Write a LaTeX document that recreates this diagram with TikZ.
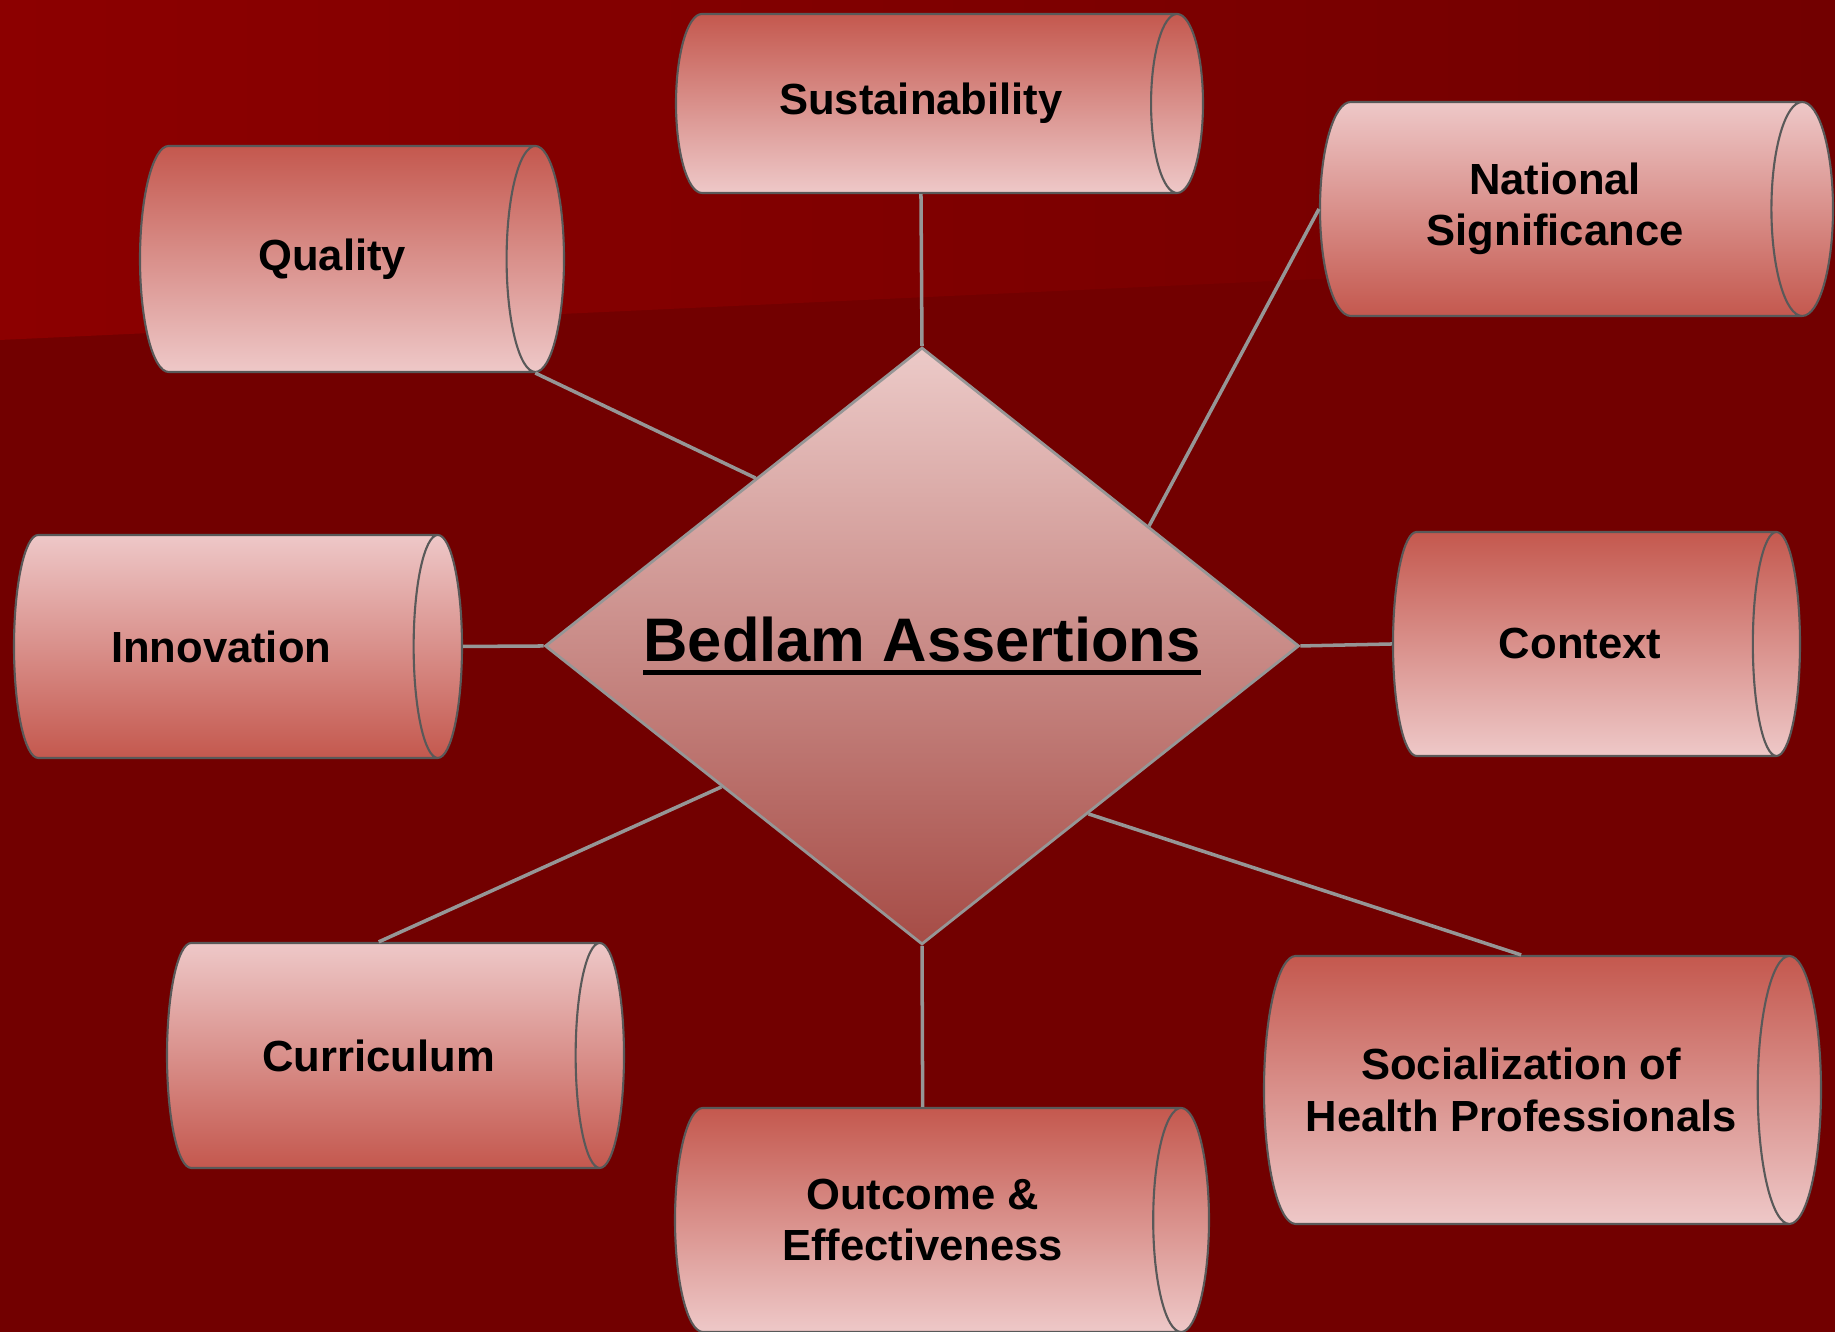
\documentclass[tikz,border=0pt]{standalone}
\usepackage{fontspec}
\setmainfont{Liberation Sans}
\usetikzlibrary{positioning, shapes.geometric, calc}

\definecolor{bgdark}{RGB}{114,0,0}
\definecolor{bglight}{RGB}{140,0,0}
\definecolor{drumdark}{RGB}{196,88,78}
\definecolor{drumlight}{RGB}{238,200,200}
\definecolor{hubtop}{RGB}{236,202,200}
\definecolor{hubbot}{RGB}{166,76,70}
\definecolor{linkgray}{RGB}{150,150,150}

% thick underline for the hub title
\newcommand{\hubline}[1]{\setbox0=\hbox{#1}\copy0\llap{\rule[-3.8pt]{\wd0}{1.4pt}}}

\begin{document}
\begin{tikzpicture}[
        drum/.style={draw=black!65, line width=0.6pt, cylinder, aspect=1.05, align=center, inner sep=2pt, anchor=shape center, font=\fontsize{12.4}{14.6}\selectfont\bfseries},
        darktop/.style={drum, top color=drumdark, bottom color=drumlight},
        lighttop/.style={drum, top color=drumlight, bottom color=drumdark},
        twoline/.style={aspect=0.58},
        hub/.style={draw=linkgray, line width=0.8pt, diamond, aspect=1.26, minimum width=7.54cm, minimum height=5.97cm, inner sep=0pt, top color=hubtop, bottom color=hubbot, font=\fontsize{17.5}{20}\selectfont\bfseries},
        link/.style={draw=linkgray, line width=1pt}
    ]

    % slide background
    \fill[bgdark] (0,0) rectangle (18.35,13.32);
    \shade[left color=bglight, right color=bgdark] (0,13.32) -- (0,9.92) -- (18.35,10.77) -- (18.35,13.32) -- cycle;
    \useasboundingbox (0,0) rectangle (18.35,13.32);

    \node[hub] (dia) at (9.22,6.86) {\hubline{Bedlam Assertions}};

    % cylinder: width = diameter, height = length along the axis
    \node[darktop, minimum height=5.27cm, minimum width=1.79cm, aspect=0.95] (sus) at (9.395,12.285) {Sustainability};
    \node[darktop, minimum height=4.24cm, minimum width=2.26cm] (qual) at (3.52,10.73) {Quality};
    \node[lighttop, twoline, minimum height=5.13cm, minimum width=2.14cm] (nat) at (15.765,11.23) {National\\Significance};
    \node[lighttop, minimum height=4.48cm, minimum width=2.23cm] (inn) at (2.38,6.855) {Innovation};
    \node[darktop, minimum height=4.07cm, minimum width=2.24cm] (ctx) at (15.965,6.88) {Context};
    \node[lighttop, minimum height=4.57cm, minimum width=2.25cm] (cur) at (3.955,2.765) {Curriculum};
    \node[darktop, twoline, minimum height=5.34cm, minimum width=2.24cm] (out) at (9.42,1.12) {Outcome \&\\Effectiveness};
    \node[darktop, twoline, minimum height=5.57cm, minimum width=2.68cm, aspect=0.65] (soc) at (15.425,2.42) {Socialization of\\Health Professionals};

    \draw[link] (sus.south) -- (dia.north);
    \draw[link] (qual.after top) -- ($(dia.north)!0.44!(dia.west)$);
    \draw[link] (nat.bottom) -- ($(dia.north)!0.6!(dia.east)$);
    \draw[link] (inn.top) -- (dia.west);
    \draw[link] (dia.east) -- (ctx.bottom);
    \draw[link] (cur.north) -- ($(dia.west)!0.47!(dia.south)$);
    \draw[link] (dia.south) -- (out.north);
    \draw[link] ($(dia.east)!0.56!(dia.south)$) -- (soc.north);

\end{tikzpicture}
\end{document}
